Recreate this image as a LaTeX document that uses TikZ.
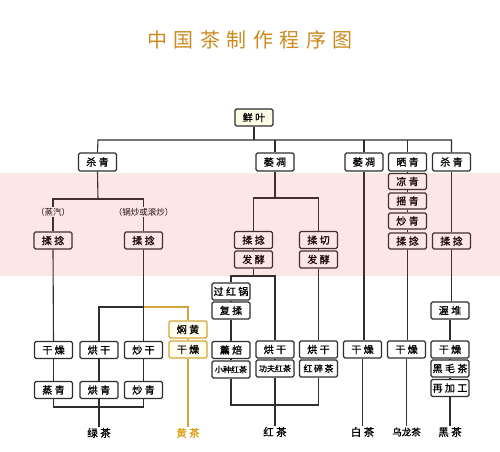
\documentclass[tikz,border=0pt]{standalone}
\usepackage{fontspec}
\setmainfont{Noto Sans CJK SC}
\newfontfamily\bxf{Noto Sans CJK SC}[FakeBold=1.2]
\definecolor{ln}{HTML}{2E2E2E}
\definecolor{gold}{HTML}{D3A53A}
\definecolor{goldt}{HTML}{D9A21E}
\definecolor{titlec}{HTML}{CC8A1E}
\definecolor{pinkov}{RGB}{235,60,60}
\newcommand{\gq}{\hspace{2.4pt}}
\newcommand{\tq}{\hspace{6.5pt}}
\tikzset{
  box/.style={draw=ln, line width=1.3pt, rounded corners=1.5pt, fill=white,
    minimum width=38pt, minimum height=17pt, inner sep=0pt, font=\bxf\fontsize{10}{10}\selectfont},
  topbox/.style={box, minimum height=18pt},
  smallbox/.style={box, font=\bxf\fontsize{8}{8}\selectfont},
  ybox/.style={box, draw=gold, fill={rgb,255:red,255;green,253;blue,238}},
  conn/.style={draw=ln, line width=1.1pt},
  yconn/.style={draw=gold, line width=1.1pt},
  lab/.style={inner sep=1pt, font=\bxf\fontsize{10.5}{10.5}\selectfont},
  note/.style={inner sep=1pt, font=\fontsize{8.5}{8.5}\selectfont}
}
\begin{document}
\begin{tikzpicture}[x=1pt,y=-1pt]
\useasboundingbox (0,0) rectangle (500,451);
\fill[white] (0,0) rectangle (500,451);
% title
\node[font=\fontsize{20}{20}\selectfont, text=titlec] (title) at (250,40) {中\tq 国\tq 茶\tq 制\tq 作\tq 程\tq 序\tq 图};
% root
\node[box, fill={rgb,255:red,251;green,251;blue,232}] (xy) at (254,117.5) {鲜\gq 叶};
% top row
\node[topbox] (sq1) at (97.5,162) {杀\gq 青};
\node[topbox] (wd1) at (275,162) {萎\gq 凋};
\node[topbox] (wd2) at (364,162) {萎\gq 凋};
\node[topbox] (shq) at (407.5,162) {晒\gq 青};
\node[topbox] (sq2) at (451.5,162) {杀\gq 青};
\coordinate (bar0) at (254,140);
\coordinate (barL) at (98,140);
\coordinate (barR) at (451.5,140);
\draw[conn] (xy.south) -- (bar0);
\draw[conn] (sq1.north) -- (barL) -- (barR) -- (sq2.north);
\draw[conn] (wd1.north) -- (wd1.north |- bar0);
\draw[conn] (wd2.north) -- (wd2.north |- bar0);
\draw[conn] (shq.north) -- (shq.north |- bar0);

% green tea
\coordinate (gb) at (98,199);
\node[note] (n1) at (53,212) {（蒸汽）};
\node[note] (n2) at (143.5,212) {（锅炒或滚炒）};
\draw[conn] (sq1.south) -- (gb);
\draw[conn] (n1.north) -- (53,199) -- (143.5,199) -- (n2.north);
\node[box] (rn1) at (53,240.5) {揉\gq 捻};
\node[box] (rn2) at (143.5,240.5) {揉\gq 捻};
\draw[conn] (n1.south) -- (rn1.north);
\draw[conn] (n2.south) -- (rn2.north);
\node[box] (gz1) at (53.5,350) {干\gq 燥};
\node[box] (hg1) at (99,350) {烘\gq 干};
\node[box] (cg1) at (143.5,350) {炒\gq 干};
\node[box] (zq) at (53.5,390) {蒸\gq 青};
\node[box] (hq) at (99,390) {烘\gq 青};
\node[box] (cq) at (143.5,390) {炒\gq 青};
\draw[conn] (rn1.south) -- (gz1.north);
\draw[conn] (rn2.south) -- (cg1.north);
\coordinate (gsplit) at (143.5,307);
\draw[conn] (gsplit) -- (99,307) -- (hg1.north);
\draw[conn] (gz1.south) -- (zq.north);
\draw[conn] (hg1.south) -- (hq.north);
\draw[conn] (cg1.south) -- (cq.north);
\node[lab] (lv) at (99,433) {绿\gq 茶};
\draw[conn] (zq.south) -- (53.5,407) -- (143.5,407) -- (cq.south);
\draw[conn] (hq.south) -- (lv.north);

% yellow tea
\node[ybox] (mh) at (188,329.5) {焖\gq 黄};
\node[ybox] (gzy) at (188,349.5) {干\gq 燥};
\draw[yconn] (gsplit) -- (188,307) -- (mh.north);
\draw[yconn] (mh.south) -- (gzy.north);
\node[lab, text=goldt] (hu) at (188,433) {黄\gq 茶};
\draw[yconn] (gzy.south) -- (hu.north);

% black (red) tea
\coordinate (rb) at (275,198);
\draw[conn] (wd1.south) -- (rb);
\node[box] (rnL) at (253.5,240) {揉\gq 捻};
\node[box] (fjL) at (253.5,259.5) {发\gq 酵};
\node[box] (rqR) at (318.5,240) {揉\gq 切};
\node[box] (fjR) at (318.5,259.5) {发\gq 酵};
\draw[conn] (rnL.north) -- (253.5,198) -- (318.5,198) -- (rqR.north);
\draw[conn] (rnL.south) -- (fjL.north);
\draw[conn] (rqR.south) -- (fjR.north);
\node[box] (ghg) at (231,291.5) {过\gq 红\gq 锅};
\node[box] (fr) at (231,310.5) {复\gq 揉};
\node[box] (xb) at (231,350) {薰\gq 焙};
\node[smallbox] (xz) at (231,369.5) {小种红茶};
\node[box] (hg2) at (275,349.5) {烘\gq 干};
\node[smallbox] (gf) at (275,368.5) {功夫红茶};
\node[box] (hg3) at (318.5,349.5) {烘\gq 干};
\node[smallbox, font=\bxf\fontsize{9}{9}\selectfont] (hs) at (318.5,368.5) {红\,碎\,茶};
\draw[conn] (fjL.south) -- (253.5,276);
\draw[conn] (ghg.north) -- (231,276) -- (275,276) -- (hg2.north);
\draw[conn] (ghg.south) -- (fr.north);
\draw[conn] (fr.south) -- (xb.north);
\draw[conn] (xb.south) -- (xz.north);
\draw[conn] (hg2.south) -- (gf.north);
\draw[conn] (fjR.south) -- (hg3.north);
\draw[conn] (hg3.south) -- (hs.north);
\node[lab] (hc) at (275,432) {红\gq 茶};
\draw[conn] (xz.south) -- (231,405) -- (318.5,405) -- (hs.south);
\draw[conn] (gf.south) -- (hc.north);

% white tea
\node[box] (gzw) at (362.5,349.5) {干\gq 燥};
\draw[conn] (wd2.south) -- (wd2.south |- gzw.north);
\node[lab] (bc) at (362.5,432) {白\gq 茶};
\draw[conn] (gzw.south) -- (bc.north);

% oolong
\node[box, minimum height=16pt] (lq) at (407.5,181.5) {凉\gq 青};
\node[box, minimum height=16pt] (yq) at (407.5,201) {摇\gq 青};
\node[box, minimum height=16pt] (cqo) at (407.5,221) {炒\gq 青};
\node[box, minimum height=16pt] (rno) at (407.5,241) {揉\gq 捻};
\node[box] (gzo) at (406.5,349.5) {干\gq 燥};
\draw[conn] (shq.south) -- (lq.north);
\draw[conn] (lq.south) -- (yq.north);
\draw[conn] (yq.south) -- (cqo.north);
\draw[conn] (cqo.south) -- (rno.north);
\draw[conn] (rno.south) -- (rno.south |- gzo.north);
\node[font=\bxf\fontsize{9.5}{9.5}\selectfont, inner sep=1pt] (wl) at (406.5,432) {乌龙茶};
\draw[conn] (gzo.south) -- (wl.north);

% dark tea
\node[box, minimum height=16pt] (rnd) at (451.5,241) {揉\gq 捻};
\node[box] (wdui) at (450,310.5) {渥\gq 堆};
\node[box] (gzd) at (450,349.5) {干\gq 燥};
\node[box] (hmc) at (450,368.5) {黑\gq 毛\gq 茶};
\node[box] (zjg) at (450,388) {再\gq 加\gq 工};
\draw[conn] (sq2.south) -- (rnd.north);
\draw[conn] (rnd.south) -- (rnd.south |- wdui.north);
\draw[conn] (wdui.south) -- (gzd.north);
\draw[conn] (gzd.south) -- (hmc.north);
\draw[conn] (hmc.south) -- (zjg.north);
\node[lab] (hei) at (450,432) {黑\gq 茶};
\draw[conn] (zjg.south) -- (hei.north);

% translucent pink band
\fill[pinkov, opacity=0.12] (0,173) rectangle (500,276);
\end{tikzpicture}
\end{document}
